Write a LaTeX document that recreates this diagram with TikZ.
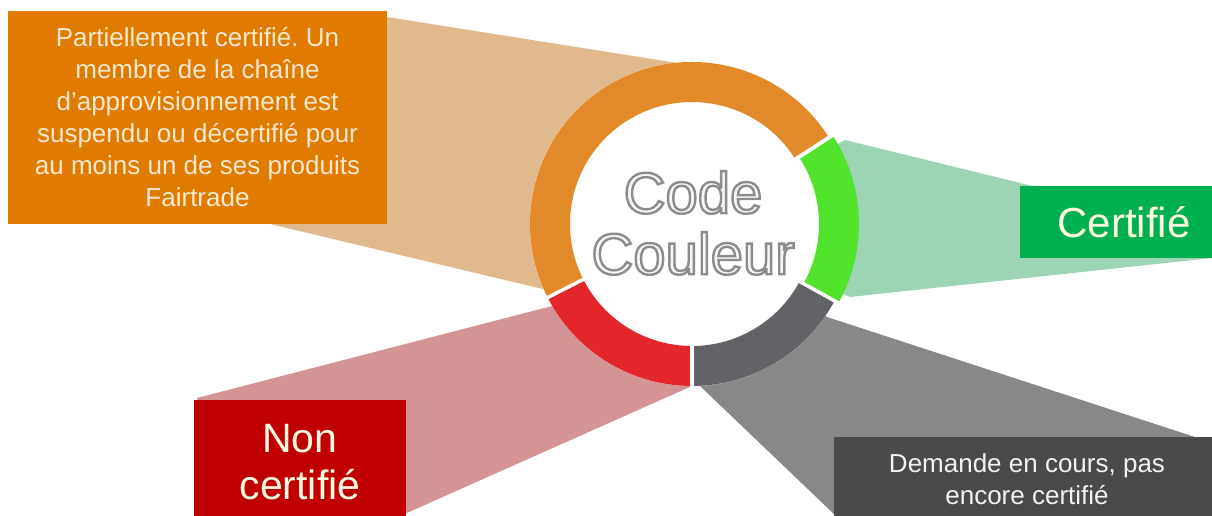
\documentclass[tikz,border=0pt]{standalone}
\usepackage{fontspec}
\setmainfont{Liberation Sans}
\usepackage{tikz}
\frenchspacing

\definecolor{orangering}{HTML}{E28A29}
\definecolor{greenring}{HTML}{52E32C}
\definecolor{redring}{HTML}{E3262A}
\definecolor{grayring}{HTML}{626366}
\definecolor{orangebox}{HTML}{E07B00}
\definecolor{greenbox}{HTML}{00B050}
\definecolor{redbox}{HTML}{C00000}
\definecolor{graybox}{HTML}{4A4A4C}
\definecolor{orangebeam}{HTML}{E0BA8C}
\definecolor{greenbeam}{HTML}{9ED4B6}
\definecolor{redbeam}{HTML}{D49394}
\definecolor{graybeam}{HTML}{888888}
\definecolor{codefill}{HTML}{F6F6F6}
\definecolor{peach}{HTML}{FDE9D0}
\definecolor{cream}{HTML}{FFFBE3}
\definecolor{lightgray}{HTML}{F2F2F2}

% one coloured piece of the ring: colour, start angle, end angle, centre
\newcommand{\ringpart}[4]{%
  \fill[#1, shift={(#4)}] (#2:162) arc[start angle=#2, end angle=#3, radius=162]
    -- (#3:122) arc[start angle=#3, end angle=#2, radius=122] -- cycle;}

% light letters with a grey rim (fill and stroke render mode)
\newcommand{\embossed}[1]{{\color{codefill}%
  \special{pdf:literal direct 2 Tr 2.4 w 0.55 G}#1\special{pdf:literal direct 0 Tr}}}

\begin{document}
\begin{tikzpicture}[x=1pt, y=-1pt,
        box_style/.style={rectangle, inner sep=0pt, align=center},
        gap_style/.style={draw=white, line width=3.5}]

        \clip (0,0) rectangle (1212,516);

        \coordinate (c) at (692,224);
        \coordinate (cg) at (697,224);

        % beams running out from the ring to the labels
        \fill[orangebeam] (387,17) -- (690,65) -- (c) -- (547,290) -- (270,224) -- cycle;
        \fill[greenbeam] (845,140) -- (1212,230) -- (1212,258) -- (850,297) -- (c) -- cycle;
        \fill[redbeam] (197,398) -- (552,306) -- (c) -- (692,386) -- (400,516) -- (197,516) -- cycle;
        \fill[graybeam] (c) -- (827,317) -- (1195,437) -- (1195,516) -- (836,516) -- (700,386) -- cycle;

        % ring
        \fill[white] (c) circle[radius=162];
        \ringpart{orangering}{153}{327}{c}
        \ringpart{redring}{90}{153}{c}
        \ringpart{grayring}{29}{90}{c}
        \ringpart{greenring}{-33}{29}{cg}
        \foreach \a in {90,153}
            \draw[gap_style] (c) ++(\a:115) -- ++(\a:52);
        \foreach \a in {-33,29}
            \draw[gap_style, line width=2.5] (cg) ++(\a:115) -- ++(\a:52);

        \node[font=\fontsize{58}{61}\selectfont, align=center] (code) at (693,223)
            {\embossed{Code}\\\embossed{Couleur}};

        % labels
        \node[box_style, fill=orangebox, text=peach, minimum width=379, minimum height=213,
            font=\fontsize{26}{32}\selectfont] (partiel) at (197.5,117.5)
            {Partiellement certifié. Un\\membre de la chaîne\\d’approvisionnement est\\suspendu ou décertifié pour\\au moins un de ses produits\\Fairtrade};

        \node[box_style, fill=greenbox, text=cream, minimum width=208, minimum height=72,
            font=\fontsize{42}{48}\selectfont] (certifie) at (1124,222) {Certifié};

        \node[box_style, fill=redbox, text=cream, minimum width=212, minimum height=124,
            font=\fontsize{41}{47}\selectfont] (noncertifie) at (300,462) {Non\\certifié};

        \node[box_style, fill=graybox, text=lightgray, minimum width=386, minimum height=85,
            font=\fontsize{26}{32}\selectfont] (encours) at (1027,479.5)
            {Demande en cours, pas\\encore certifié};

        \end{tikzpicture}
\end{document}
